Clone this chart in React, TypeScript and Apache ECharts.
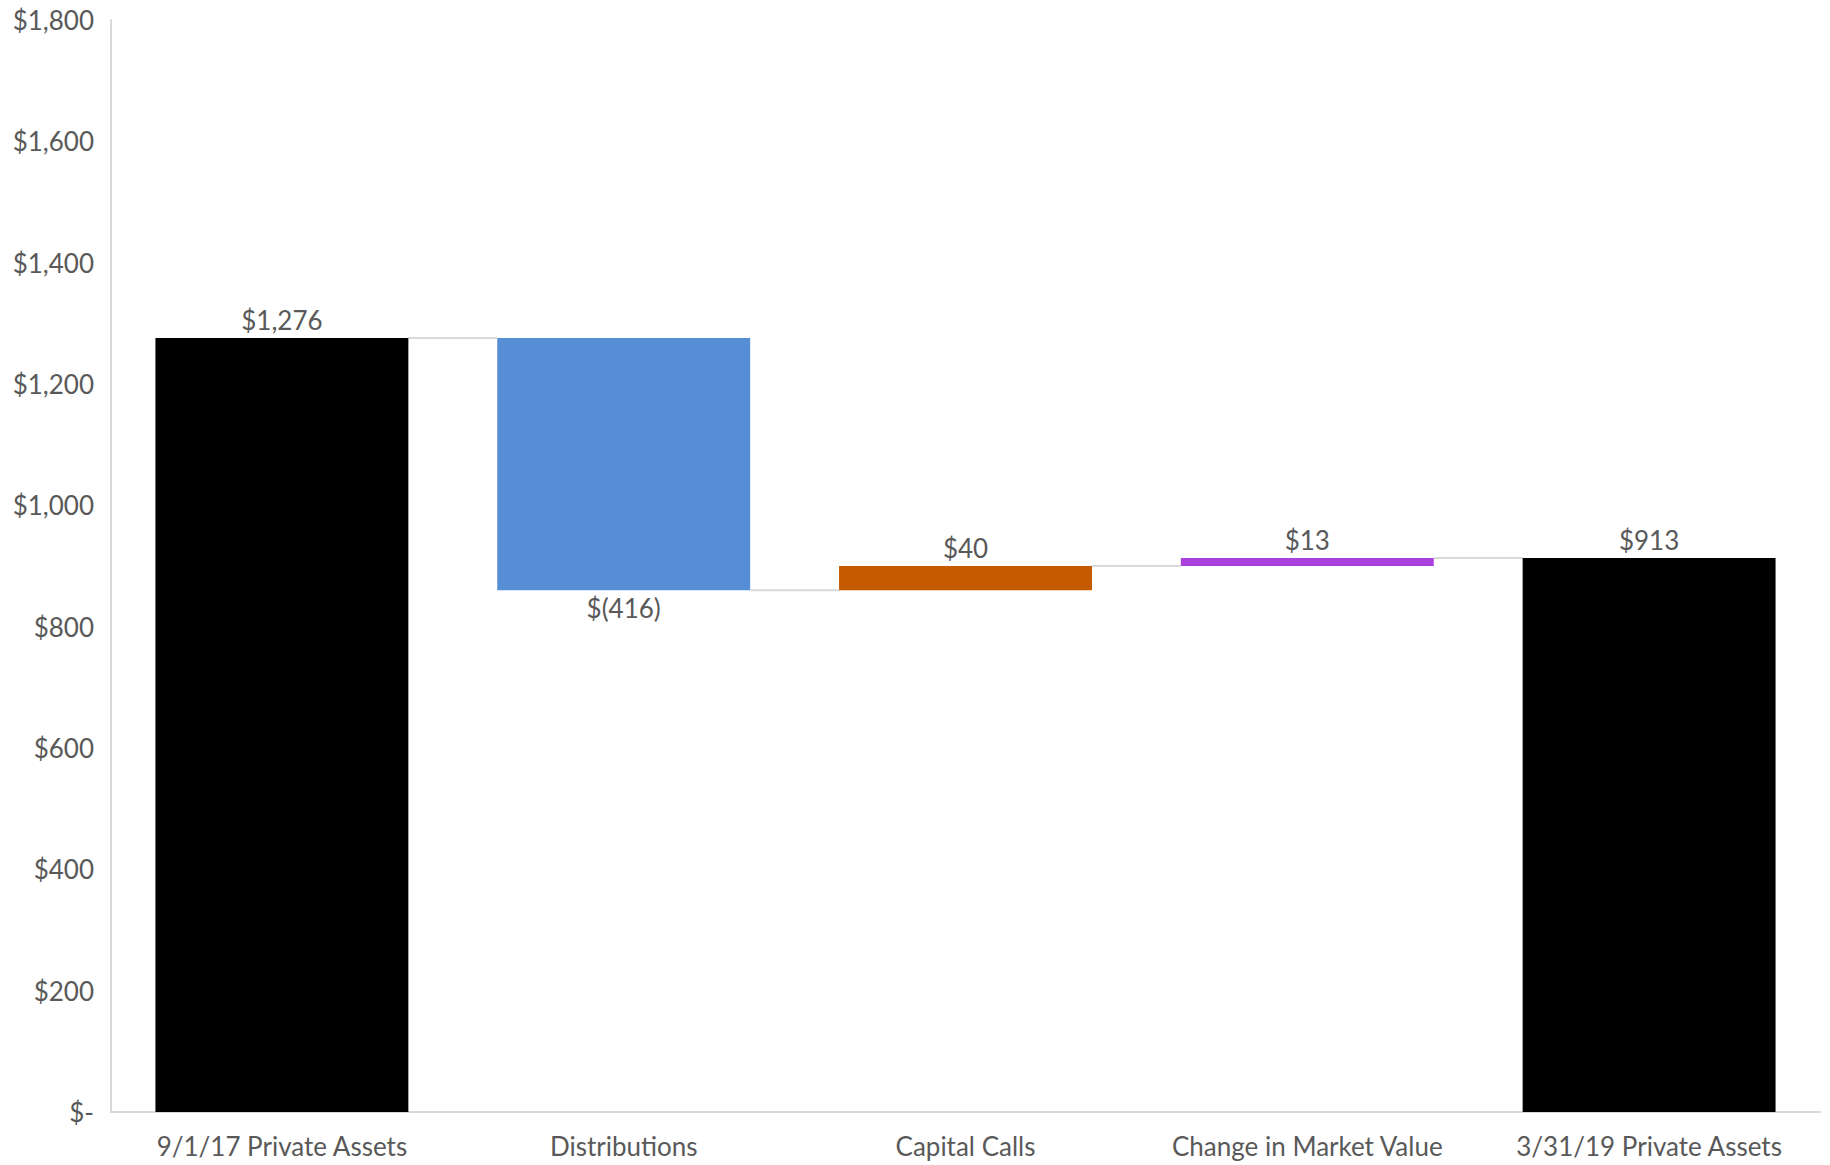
import React, { useEffect, useRef } from "react";
import * as echarts from "echarts";

const categories = [
  "9/1/17 Private Assets",
  "Distributions",
  "Capital Calls",
  "Change in Market Value",
  "3/31/19 Private Assets",
];
const changes = [1276, -416, 40, 13, 913];
const isTotal = [true, false, false, false, true];
const barColors = ["#000000", "#558ED5", "#C55A00", "#A940DD", "#000000"];
const valueLabels = ["$1,276", "$(416)", "$40", "$13", "$913"];
const yTicks = [0, 200, 400, 600, 800, 1000, 1200, 1400, 1600, 1800];

const FONT = "Lato, 'DejaVu Sans', sans-serif";

export default function App() {
  const ref = useRef<HTMLDivElement>(null);
  useEffect(() => {
    if (!ref.current) return;
    const chart = echarts.init(ref.current, undefined, { renderer: "svg" });

    const base: number[] = [];
    const height: number[] = [];
    const ends: number[] = [];
    let running = 0;
    changes.forEach((v, i) => {
      if (isTotal[i]) {
        base.push(0);
        height.push(v);
        running = v;
      } else {
        const next = running + v;
        base.push(Math.min(running, next));
        height.push(Math.abs(v));
        running = next;
      }
      ends.push(running);
    });

    const barFrac = 0.74;

    chart.setOption({
      animation: false,
      backgroundColor: "#ffffff",
      grid: { left: 111, right: 10, top: 20, bottom: 53, containLabel: false },
      xAxis: {
        type: "category",
        data: categories,
        axisLine: { show: true, lineStyle: { color: "#D9D9D9", width: 2 } },
        axisTick: { show: false },
        axisLabel: {
          color: "#595959",
          fontFamily: FONT,
          fontSize: 26,
          margin: 21,
          interval: 0,
        },
        splitLine: { show: false },
      },
      yAxis: {
        type: "value",
        min: 0,
        max: yTicks[yTicks.length - 1],
        interval: 200,
        axisLine: { show: true, lineStyle: { color: "#D9D9D9", width: 2 } },
        axisTick: { show: false },
        splitLine: { show: false },
        axisLabel: {
          color: "#595959",
          fontFamily: FONT,
          fontSize: 26,
          margin: 17,
          formatter: (v: number) =>
            v === 0 ? "$-" : "$" + v.toLocaleString("en-US"),
        },
      },
      series: [
        {
          type: "custom",
          z: 1,
          renderItem: (params: any, api: any) => {
            const i = api.value(0);
            if (i >= categories.length - 1) return null;
            const level = api.value(1);
            const catW = api.size([1, 0])[0];
            const p1 = api.coord([i, level]);
            const p2 = api.coord([i + 1, level]);
            return {
              type: "line",
              shape: {
                x1: p1[0] + (catW * barFrac) / 2,
                y1: p1[1],
                x2: p2[0] - (catW * barFrac) / 2,
                y2: p2[1],
              },
              style: { stroke: "#D9D9D9", lineWidth: 2 },
            };
          },
          data: ends.map((e, i) => [i, e]),
          silent: true,
        },
        {
          type: "bar",
          stack: "wf",
          barCategoryGap: "26%",
          itemStyle: { color: "transparent" },
          data: base,
          silent: true,
          z: 2,
        },
        {
          type: "bar",
          stack: "wf",
          barCategoryGap: "26%",
          z: 2,
          data: height.map((h, i) => ({
            value: h,
            itemStyle: { color: barColors[i] },
            label: {
              show: true,
              position: changes[i] < 0 ? "bottom" : "top",
              distance: 5,
              formatter: valueLabels[i],
              color: "#595959",
              fontFamily: FONT,
              fontSize: 26,
            },
          })),
        },
      ],
    });
    return () => chart.dispose();
  }, []);

  return (
    <div
      ref={ref}
      style={{
        position: "absolute",
        left: 0,
        top: 0,
        width: 1830,
        height: 1165,
        background: "#fff",
      }}
    />
  );
}
